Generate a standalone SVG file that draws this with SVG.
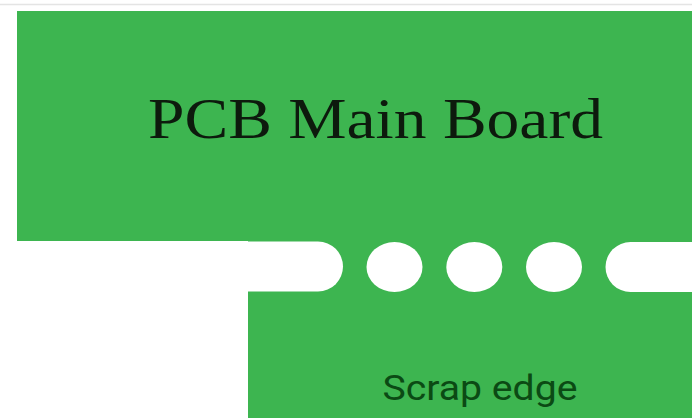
<svg xmlns="http://www.w3.org/2000/svg" width="692" height="418" viewBox="0 0 692 418">
  <style>
    .board { fill: #3db550; }
    .hole { fill: #ffffff; }
    .title { font-family: "Liberation Serif", "DejaVu Serif", serif; font-size: 58px; fill: #0d1a0d; }
    .label { font-family: Roboto, "Liberation Sans", sans-serif; font-size: 35px; fill: #0b4a14; }
  </style>
  <rect x="0" y="0" width="692" height="418" fill="#ffffff"/>
  <line x1="0" y1="4.5" x2="692" y2="4.5" stroke="#e4e4e4" stroke-width="1.5"/>
  <g id="main-board">
    <rect class="board" x="17" y="11" width="675" height="230"/>
    <text class="title" x="375.5" y="138" text-anchor="middle" textLength="455" lengthAdjust="spacingAndGlyphs">PCB Main Board</text>
  </g>
  <g id="scrap-edge">
    <rect class="board" x="248" y="241" width="444" height="177"/>
    <text class="label" x="480" y="400" text-anchor="middle" textLength="195" lengthAdjust="spacingAndGlyphs">Scrap edge</text>
  </g>
  <g id="breakaway-holes">
    <rect class="hole" x="-30" y="241.5" width="373" height="50" rx="25" ry="25"/>
    <ellipse class="hole" cx="394.5" cy="267" rx="28" ry="25"/>
    <ellipse class="hole" cx="474.3" cy="267" rx="28" ry="25"/>
    <ellipse class="hole" cx="554" cy="267" rx="28" ry="25"/>
    <rect class="hole" x="605.5" y="242" width="130" height="50" rx="25" ry="25"/>
  </g>
  <g id="connectors"></g>
</svg>
